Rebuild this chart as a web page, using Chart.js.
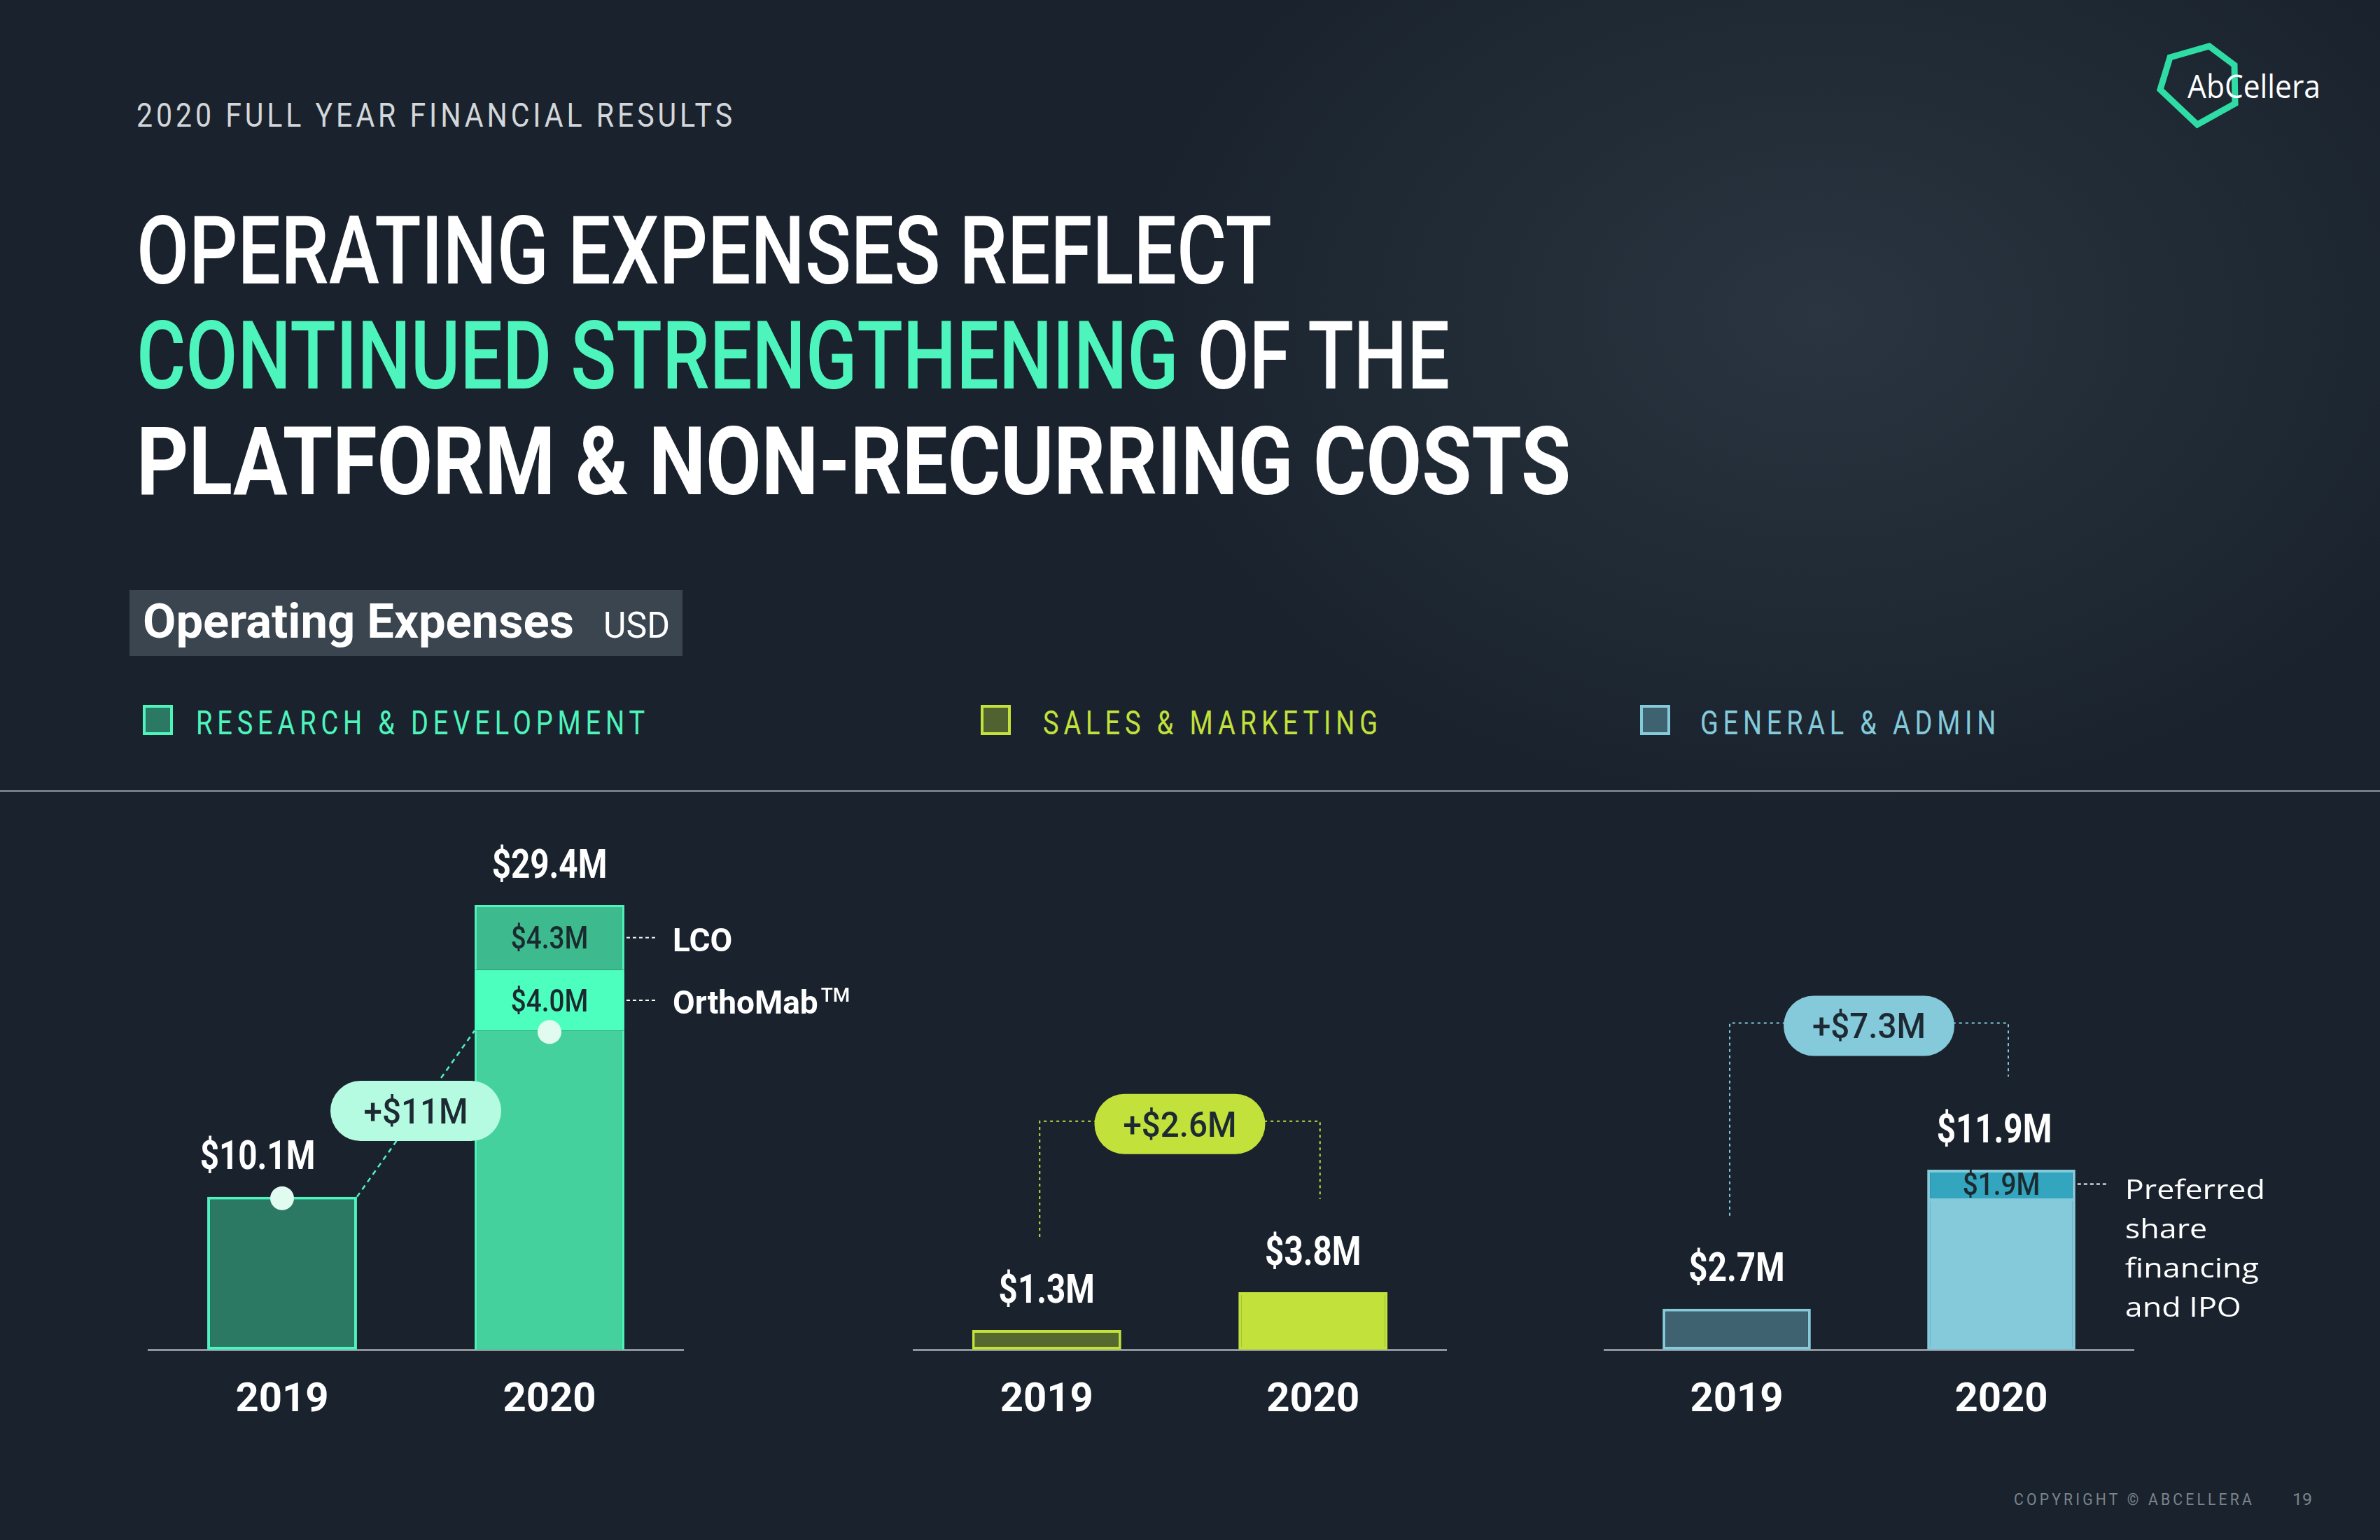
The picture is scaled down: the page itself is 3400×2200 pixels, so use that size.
<!DOCTYPE html>
<html>
<head>
<meta charset="utf-8">
<script src="https://cdn.jsdelivr.net/npm/chart.js@4.4.1/dist/chart.umd.min.js"></script>
<style>
  html, body { margin: 0; padding: 0; }
  body {
    width: 3400px; height: 2200px; overflow: hidden; position: relative;
    background: #1a232d; color: #fff;
    font-family: Roboto, "Liberation Sans", sans-serif;
  }
  .bg {
    position: absolute; left: 0; top: 0; width: 3400px; height: 2200px;
    background: radial-gradient(ellipse 1400px 1000px at 2600px 450px, rgba(60, 74, 88, 0.45), rgba(26, 35, 45, 0) 70%);
  }
  .t { position: absolute; white-space: nowrap; line-height: 1; transform-origin: 0 0; }
  .sq { position: absolute; width: 35px; height: 35px; border: 4px solid; }
  .rule { position: absolute; left: 0; top: 1129px; width: 3400px; height: 2px; background: #8e959c; }
  .box { position: absolute; left: 185px; top: 843px; width: 790px; height: 94px; background: #3a454f; }
  canvas { position: absolute; left: 0; top: 1000px; }
</style>
</head>
<body>
<div class="bg"></div>

<!-- header -->
<div class="t" style="left:195px;top:141px;font-size:48px;letter-spacing:0.12em;color:#d3d7db;" data-w="856">2020 FULL YEAR FINANCIAL RESULTS</div>
<div class="t" style="left:195px;top:291px;font-size:136px;font-weight:500;" data-w="1622">OPERATING EXPENSES REFLECT</div>
<div class="t" style="left:195px;top:441px;font-size:136px;font-weight:500;" data-w="1876"><span style="color:#4df5bd">CONTINUED STRENGTHENING</span> OF THE</div>
<div class="t" style="left:195px;top:592px;font-size:136px;font-weight:700;" data-w="2049">PLATFORM &amp; NON-RECURRING COSTS</div>

<!-- logo -->
<svg style="position:absolute;left:0;top:0" width="3400" height="260">
  <polygon points="3100,82 3156,66 3192,93 3193,148 3139,178 3086,128" fill="none" stroke="#2fdca5" stroke-width="9" stroke-linejoin="miter"/>
</svg>
<div class="t" style="left:3125px;top:99px;font-size:46px;font-family:'Open Sans',sans-serif;" data-w="190">AbCellera</div>

<!-- chart title box -->
<div class="box"></div>
<div class="t" style="left:204px;top:854px;font-size:68px;font-weight:700;" data-w="616">Operating Expenses</div>
<div class="t" style="left:862px;top:868px;font-size:52px;" data-w="95">USD</div>

<!-- legend -->
<div class="sq" style="left:204px;top:1007px;border-color:#4df5bd;background:#2b7863;"></div>
<div class="t" style="left:280px;top:1008px;font-size:49px;letter-spacing:0.18em;color:#4df5bd;" data-w="648">RESEARCH &amp; DEVELOPMENT</div>
<div class="sq" style="left:1401px;top:1007px;border-color:#c2e13b;background:#4f6230;"></div>
<div class="t" style="left:1490px;top:1008px;font-size:49px;letter-spacing:0.18em;color:#c2e13b;" data-w="485">SALES &amp; MARKETING</div>
<div class="sq" style="left:2343px;top:1007px;border-color:#84cadb;background:#3e6270;"></div>
<div class="t" style="left:2429px;top:1008px;font-size:49px;letter-spacing:0.18em;color:#84cadb;" data-w="429">GENERAL &amp; ADMIN</div>

<div class="rule"></div>

<canvas id="rd" width="3400" height="1100"></canvas>
<canvas id="sm" width="3400" height="1100"></canvas>
<canvas id="ga" width="3400" height="1100"></canvas>

<!-- footer -->
<div class="t" style="left:2877px;top:2130px;font-size:24px;letter-spacing:0.2em;color:#7b848d;" data-w="344">COPYRIGHT © ABCELLERA</div>
<div class="t" style="left:3275px;top:2130px;font-size:24px;color:#7b848d;" data-w="28">19</div>

<script>
// data
const years = ['2019', '2020'];
const rdBase = [10.1, 21.1];
const rdOrthoMab = [null, 4.0];
const rdLco = [null, 4.3];
const smValues = [1.3, 3.8];
const gaBase = [2.7, 10.0];
const gaPreferred = [null, 1.9];
const deltaLabels = ['+$11M', '+$2.6M', '+$7.3M'];

// squeeze/stretch html text to the widths on the slide
document.querySelectorAll('[data-w]').forEach(el => {
    const w = el.getBoundingClientRect().width;
    el.style.transform = `scaleX(${el.dataset.w / w})`;
});

const FONT = 'Roboto, "Liberation Sans", sans-serif';
const fmt = v => '$' + v.toFixed(1) + 'M';

// text centred on its cap height, squeezed by sx
function drawText(ctx, text, x, y, size, weight, color, sx, align, family) {
    ctx.save();
    ctx.font = `${weight} ${size}px ${family || FONT}`;
    ctx.fillStyle = color;
    ctx.textAlign = align || 'center';
    ctx.textBaseline = 'alphabetic';
    ctx.translate(x, y + 0.355 * size);
    ctx.scale(sx, 1);
    ctx.fillText(text, 0, 0);
    ctx.restore();
}

function dashed(ctx, pts, color, width, dash) {
    ctx.save();
    ctx.strokeStyle = color;
    ctx.lineWidth = width;
    ctx.setLineDash(dash);
    ctx.beginPath();
    ctx.moveTo(pts[0][0], pts[0][1]);
    for (let i = 1; i < pts.length; i++) ctx.lineTo(pts[i][0], pts[i][1]);
    ctx.stroke();
    ctx.restore();
}

function pill(ctx, cx, cy, text, fill) {
    ctx.save();
    ctx.fillStyle = fill;
    ctx.beginPath();
    ctx.roundRect(cx - 122, cy - 43, 244, 86, 43);
    ctx.fill();
    ctx.restore();
    drawText(ctx, text, cx, cy, 50, 500, '#1d2a33', 0.95);
}

const decoPlugin = {
    id: 'deco',
    afterDatasetsDraw(chart, args, opts) {
        const ctx = chart.ctx;
        const yScale = chart.scales.y;
        const sets = chart.data.datasets;
        const metas = sets.map((d, i) => chart.getDatasetMeta(i));
        const tops = [];
        const shift = opts.totalShift || [0, 0];

        // totals above each bar
        years.forEach((yr, i) => {
            let total = 0, top = Infinity, x = 0;
            sets.forEach((ds, di) => {
                const v = ds.data[i];
                if (v == null) return;
                total += v;
                const el = metas[di].data[i];
                top = Math.min(top, el.y);
                x = el.x;
            });
            tops.push(top);
            drawText(ctx, fmt(total), x + shift[i], top - 60, 58, 700, '#ffffff', 0.82);
        });

        // labelled segments and their notes
        sets.forEach((ds, di) => {
            if (!ds.segLabel) return;
            ds.data.forEach((v, i) => {
                if (v == null) return;
                const el = metas[di].data[i];
                const cy = (el.y + el.base) / 2;
                const right = el.x + el.width / 2;
                drawText(ctx, fmt(v), el.x, cy, 45, 500, '#1b2a2f', 0.86);
                dashed(ctx, [[right + 3, cy], [right + 46, cy]], '#ffffff', 2, [5, 4]);
                if (Array.isArray(ds.note)) {
                    ds.note.forEach((line, k) => {
                        drawText(ctx, line, right + 71, cy + 8 + k * 56, 39, 400, '#ffffff', 1.15, 'left', '"Open Sans", sans-serif');
                    });
                } else {
                    drawText(ctx, ds.note, right + 69, cy + 3, 46, 700, '#ffffff', 1, 'left');
                    if (ds.sup) {
                        ctx.save();
                        ctx.font = `700 46px ${FONT}`;
                        const w = ctx.measureText(ds.note).width;
                        ctx.restore();
                        drawText(ctx, ds.sup, right + 69 + w + 4, cy - 8, 28, 500, '#ffffff', 1, 'left');
                    }
                }
            });
        });

        const b0 = metas[0].data[0], b1 = metas[0].data[1];
        if (opts.mode === 'diagonal') {
            const p0 = [b0.x + b0.width / 2, b0.y];
            const p1 = [b1.x - b1.width / 2, b1.y];
            dashed(ctx, [p0, p1], opts.lineColor, 2.5, [7, 6]);
            ctx.save();
            ctx.fillStyle = '#e2fbf1';
            [b0, b1].forEach(b => {
                ctx.beginPath();
                ctx.arc(b.x, b.y + 2, 17, 0, Math.PI * 2);
                ctx.fill();
            });
            ctx.restore();
            pill(ctx, (p0[0] + p1[0]) / 2, (p0[1] + p1[1]) / 2 - 4, opts.delta, opts.pillColor);
        } else {
            const ly = yScale.getPixelForValue(opts.level);
            const lx = b0.x - 10, rx = b1.x + 10;
            dashed(ctx, [[lx, tops[0] - 133], [lx, ly], [rx, ly], [rx, tops[1] - 133]], opts.lineColor, 2, [4, 5]);
            pill(ctx, (b0.x + b1.x) / 2, ly + 4, opts.delta, opts.pillColor);
        }
    }
};

function panel(id, datasets, area, deco) {
    return new Chart(document.getElementById(id), {
        type: 'bar',
        data: { labels: years, datasets: datasets },
        options: {
            responsive: false,
            animation: false,
            devicePixelRatio: 1,
            layout: { padding: { left: area[0], right: 3400 - area[1], top: 64, bottom: 0 } },
            datasets: { bar: { barPercentage: 0.56, categoryPercentage: 1, borderSkipped: false } },
            plugins: { legend: { display: false }, tooltip: { enabled: false }, deco: deco },
            scales: {
                x: {
                    stacked: true,
                    grid: { display: false, drawTicks: false },
                    border: { color: '#8e959c', width: 3 },
                    ticks: { color: '#ffffff', padding: 39, font: { family: 'Roboto', size: 58, weight: 'bold' } },
                    afterFit: s => { s.height = 172; }
                },
                y: { stacked: true, display: false, min: 0, max: 40 }
            }
        },
        plugins: [decoPlugin]
    });
}

panel('rd', [
    { data: rdBase, backgroundColor: ['#2b7863', '#45d19e'], borderColor: '#4df5bd',
      borderWidth: c => c.dataIndex === 0 ? 4 : { left: 3, right: 3, top: 0, bottom: 0 } },
    { data: rdOrthoMab, backgroundColor: '#4dffbf', borderWidth: 0, segLabel: true, note: 'OrthoMab', sup: 'TM' },
    { data: rdLco, backgroundColor: '#3dbb8f', borderColor: '#4df5bd',
      borderWidth: { left: 3, right: 3, top: 3, bottom: 0 }, segLabel: true, note: 'LCO' }
], [212, 976], { mode: 'diagonal', totalShift: [-35, 0], delta: deltaLabels[0], pillColor: '#b5fbe1', lineColor: '#4df5bd' });

panel('sm', [
    { data: smValues, backgroundColor: ['#56692f', '#c2e13b'], borderColor: '#c2e13b', borderWidth: 4 }
], [1305, 2066], { mode: 'bracket', level: 15.1, delta: deltaLabels[1], pillColor: '#c2e13b', lineColor: '#c2e13b' });

panel('ga', [
    { data: gaBase, backgroundColor: ['#3e6270', '#84cadb'], borderColor: '#84cadb', borderWidth: 4 },
    { data: gaPreferred, backgroundColor: '#34a5bf', borderColor: '#84cadb',
      borderWidth: { left: 4, right: 4, top: 4, bottom: 0 }, segLabel: true,
      note: ['Preferred', 'share', 'financing', 'and IPO'] }
], [2292, 3048], { mode: 'bracket', level: 21.6, totalShift: [0, -10], delta: deltaLabels[2], pillColor: '#84cadb', lineColor: '#84cadb' });
</script>
</body>
</html>
